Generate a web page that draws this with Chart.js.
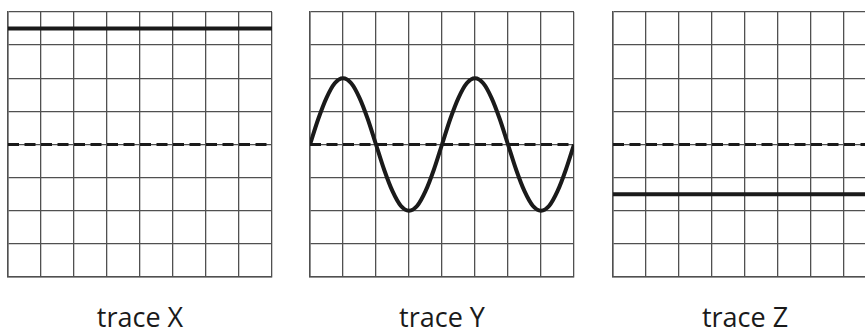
<!DOCTYPE html>
<html lang="en">
<head>
    <meta charset="UTF-8">
    <script src="https://cdn.jsdelivr.net/npm/chart.js@4.4.0/dist/chart.umd.min.js"></script>
    <title>traces</title>
    <style>
        body { margin: 0; width: 865px; height: 330px; overflow: hidden; background: #fff; position: relative; }
        .panel { position: absolute; top: 0; width: 280px; height: 330px; }
        .panel canvas { position: absolute; left: 0; top: 0; }
        .label {
            position: absolute; left: 0; width: 280px; top: 298px; text-align: center;
            font-family: "Open Sans", sans-serif; font-size: 27px; color: #1a1a1a;
        }
    </style>
</head>
<body>

    <div class="panel" style="left:0px"><canvas id="c1" width="280" height="290"></canvas><div class="label">trace X</div></div>
    <div class="panel" style="left:302px"><canvas id="c2" width="280" height="290"></canvas><div class="label">trace Y</div></div>
    <div class="panel" style="left:605px"><canvas id="c3" width="280" height="290"></canvas><div class="label">trace Z</div></div>

    <script>
        // screen: 8 x 8 divisions, y from -4 to 4
        var divX = [0, 8];
        var divY = [-4, 4];
        var labels = ["trace X", "trace Y", "trace Z"];

        // flat traces (level in divisions)
        var traceXLevel = 3.5;
        var traceZLevel = -1.5;

        // trace Y read every quarter division
        var traceYx = [0, 0.25, 0.5, 0.75, 1, 1.25, 1.5, 1.75, 2, 2.25, 2.5, 2.75, 3, 3.25, 3.5, 3.75,
                       4, 4.25, 4.5, 4.75, 5, 5.25, 5.5, 5.75, 6, 6.25, 6.5, 6.75, 7, 7.25, 7.5, 7.75, 8];
        var traceYy = [0, 0.77, 1.41, 1.85, 2, 1.85, 1.41, 0.77, 0, -0.77, -1.41, -1.85, -2, -1.85, -1.41, -0.77,
                       0, 0.77, 1.41, 1.85, 2, 1.85, 1.41, 0.77, 0, -0.77, -1.41, -1.85, -2, -1.85, -1.41, -0.77, 0];

        var ink = '#1a1a1a';
        var gridColor = '#505050';

        function flat(level) {
            return [{ x: divX[0], y: level }, { x: divX[1], y: level }];
        }

        function makeChart(id, trace) {
            var ctx = document.getElementById(id).getContext('2d');
            return new Chart(ctx, {
                type: 'scatter',
                data: {
                    datasets: [{
                        data: flat(0),
                        showLine: true,
                        borderColor: ink,
                        borderWidth: 3,
                        borderDash: [11, 5.5],
                        pointRadius: 0
                    }, {
                        data: trace,
                        showLine: true,
                        borderColor: ink,
                        borderWidth: 4,
                        cubicInterpolationMode: 'monotone',
                        pointRadius: 0
                    }]
                },
                options: {
                    responsive: false,
                    animation: false,
                    layout: { padding: { left: 8, top: 12, right: 8, bottom: 13 } },
                    plugins: { legend: { display: false }, tooltip: { enabled: false } },
                    scales: {
                        x: {
                            min: divX[0], max: divX[1],
                            ticks: { display: false, stepSize: 1 },
                            grid: { color: gridColor, lineWidth: 1.3, drawTicks: false },
                            border: { display: true, color: gridColor, width: 1.5 }
                        },
                        y: {
                            min: divY[0], max: divY[1],
                            ticks: { display: false, stepSize: 1 },
                            grid: { color: gridColor, lineWidth: 1.3, drawTicks: false },
                            border: { display: true, color: gridColor, width: 1.5 }
                        }
                    }
                }
            });
        }

        var chart1 = makeChart('c1', flat(traceXLevel));
        var chart2 = makeChart('c2', traceYx.map((x, i) => ({ x: x, y: traceYy[i] })));
        var chart3 = makeChart('c3', flat(traceZLevel));
    </script>

</body>
</html>
